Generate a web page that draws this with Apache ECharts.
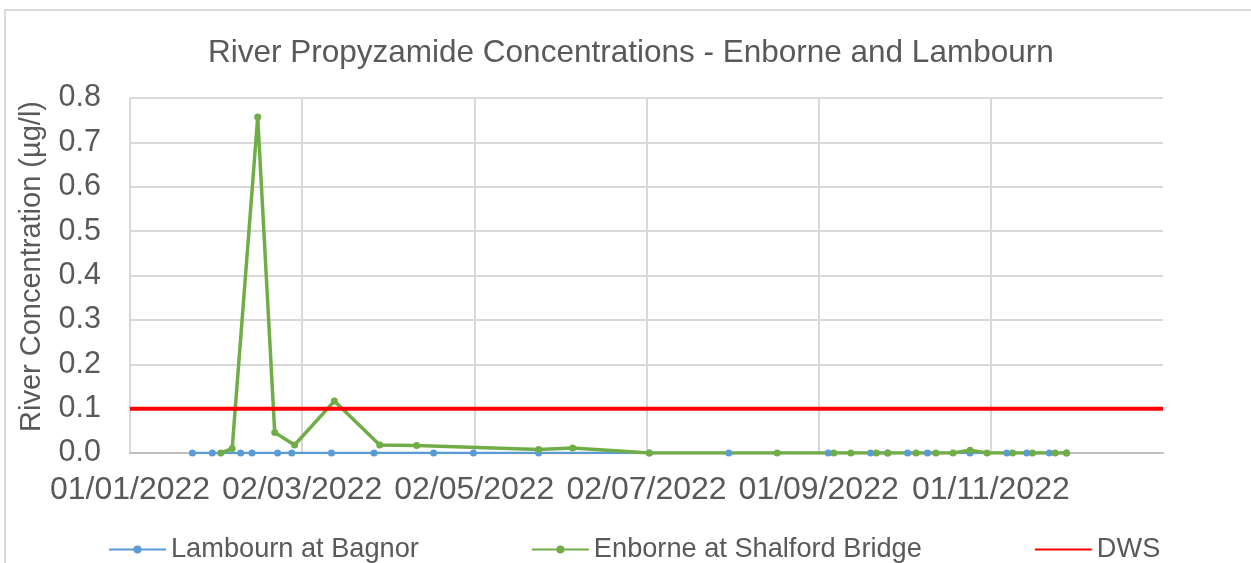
<!DOCTYPE html>
<html>
<head>
<meta charset="utf-8">
<script src="https://cdn.jsdelivr.net/npm/echarts@6/dist/echarts.min.js"></script>
<style>
  html, body { margin: 0; padding: 0; background: #fff; }
  #chart { width: 1251px; height: 563px; }
</style>
</head>
<body>
<div id="chart"></div>
<script>
// axis origin and tick labels (one tick every ~2 months)
const startDate = "2022-01-01";
const tickLabels = ["01/01/2022", "02/03/2022", "02/05/2022", "02/07/2022", "01/09/2022", "01/11/2022", ""];

// Lambourn at Bagnor
const lambournDates = [
  "2022-01-23", "2022-01-30", "2022-02-09", "2022-02-13", "2022-02-22", "2022-02-27",
  "2022-03-13", "2022-03-28", "2022-04-18", "2022-05-02", "2022-05-25", "2022-07-03",
  "2022-07-31", "2022-09-04", "2022-09-19", "2022-09-25", "2022-10-02", "2022-10-09",
  "2022-10-24", "2022-11-06", "2022-11-13", "2022-11-21", "2022-11-27"
];
const lambournValues = [
  0, 0, 0, 0, 0, 0,
  0, 0, 0, 0, 0, 0,
  0, 0, 0, 0, 0, 0,
  0, 0, 0, 0, 0
];

// Enborne at Shalford Bridge
const enborneDates = [
  "2022-02-02", "2022-02-06", "2022-02-15", "2022-02-21", "2022-02-28", "2022-03-14",
  "2022-03-30", "2022-04-12", "2022-05-25", "2022-06-06", "2022-07-03", "2022-08-17",
  "2022-09-06", "2022-09-12", "2022-09-21", "2022-09-25", "2022-10-05", "2022-10-12",
  "2022-10-18", "2022-10-24", "2022-10-30", "2022-11-08", "2022-11-15", "2022-11-23",
  "2022-11-27"
];
const enborneValues = [
  0, 0.01, 0.757, 0.046, 0.018, 0.117,
  0.018, 0.017, 0.008, 0.011, 0, 0,
  0, 0, 0, 0, 0, 0,
  0, 0.006, 0, 0, 0, 0,
  0
];

// DWS threshold
const dwsDates = ["2022-01-01", "2022-12-31"];
const dwsValues = [0.1, 0.1];

const axisMaxDay = 364;
const tickStep = axisMaxDay / 6;

function dayOf(d) {
  return (Date.parse(d) - Date.parse(startDate)) / 86400000;
}
function pairs(dates, values) {
  return dates.map(function (d, i) {
    return [dayOf(d), values[i]];
  });
}

const font = "'Liberation Sans', Arial, sans-serif";
const textGrey = "#595959";

const chart = echarts.init(document.getElementById("chart"));
chart.setOption({
  backgroundColor: "#fff",
  animation: false,
  textStyle: { fontFamily: font },
  graphic: [
    {
      type: "rect",
      shape: { x: 5, y: 10, width: 1400, height: 700 },
      style: { fill: "none", stroke: "#d9d9d9", lineWidth: 2 }
    }
  ],
  title: {
    text: "River Propyzamide Concentrations - Enborne and Lambourn",
    left: 203,
    top: 32,
    textStyle: {
      fontFamily: font,
      fontSize: 31.5,
      fontWeight: "normal",
      color: textGrey
    }
  },
  grid: {
    left: 130,
    right: 88,
    top: 98,
    bottom: 110
  },
  legend: {
    left: 103,
    top: 531,
    itemGap: 112,
    itemWidth: 57,
    itemHeight: 10,
    textStyle: { fontFamily: font, fontSize: 27.2, color: textGrey },
    data: [
      "Lambourn at Bagnor",
      "Enborne at Shalford Bridge",
      { name: "DWS", itemStyle: { opacity: 0 } }
    ]
  },
  xAxis: {
    type: "value",
    min: 0,
    max: axisMaxDay,
    interval: tickStep,
    axisLine: { lineStyle: { color: "#bfbfbf", width: 2 } },
    axisTick: { show: false },
    axisLabel: {
      fontFamily: font,
      fontSize: 32,
      color: textGrey,
      margin: 21,
      showMaxLabel: false,
      formatter: function (v) {
        return tickLabels[Math.round(v / tickStep)] || "";
      }
    },
    splitLine: {
      show: true,
      showMaxLine: false,
      lineStyle: { color: "#d9d9d9", width: 2 }
    }
  },
  yAxis: {
    type: "value",
    min: 0,
    max: 0.8,
    interval: 0.1,
    name: "River Concentration (µg/l)",
    nameLocation: "middle",
    nameGap: 84,
    nameTextStyle: { fontFamily: font, fontSize: 29, color: textGrey, padding: [0, 0, 0, 18] },
    axisLine: { show: false },
    axisTick: { show: false },
    axisLabel: {
      fontFamily: font,
      fontSize: 30.5,
      color: textGrey,
      margin: 29,
      formatter: function (v) {
        return v.toFixed(1);
      }
    },
    splitLine: { lineStyle: { color: "#d9d9d9", width: 2 } }
  },
  series: [
    {
      name: "Lambourn at Bagnor",
      type: "line",
      data: pairs(lambournDates, lambournValues),
      symbol: "circle",
      symbolSize: 7,
      itemStyle: { color: "#5b9bd5" },
      lineStyle: { color: "#5b9bd5", width: 2.5 }
    },
    {
      name: "Enborne at Shalford Bridge",
      type: "line",
      data: pairs(enborneDates, enborneValues),
      symbol: "circle",
      symbolSize: 7,
      itemStyle: { color: "#70ad47" },
      lineStyle: { color: "#70ad47", width: 3.5 }
    },
    {
      name: "DWS",
      type: "line",
      data: pairs(dwsDates, dwsValues),
      symbol: "none",
      itemStyle: { color: "#ff0000" },
      lineStyle: { color: "#ff0000", width: 4 }
    }
  ]
});
</script>
</body>
</html>
